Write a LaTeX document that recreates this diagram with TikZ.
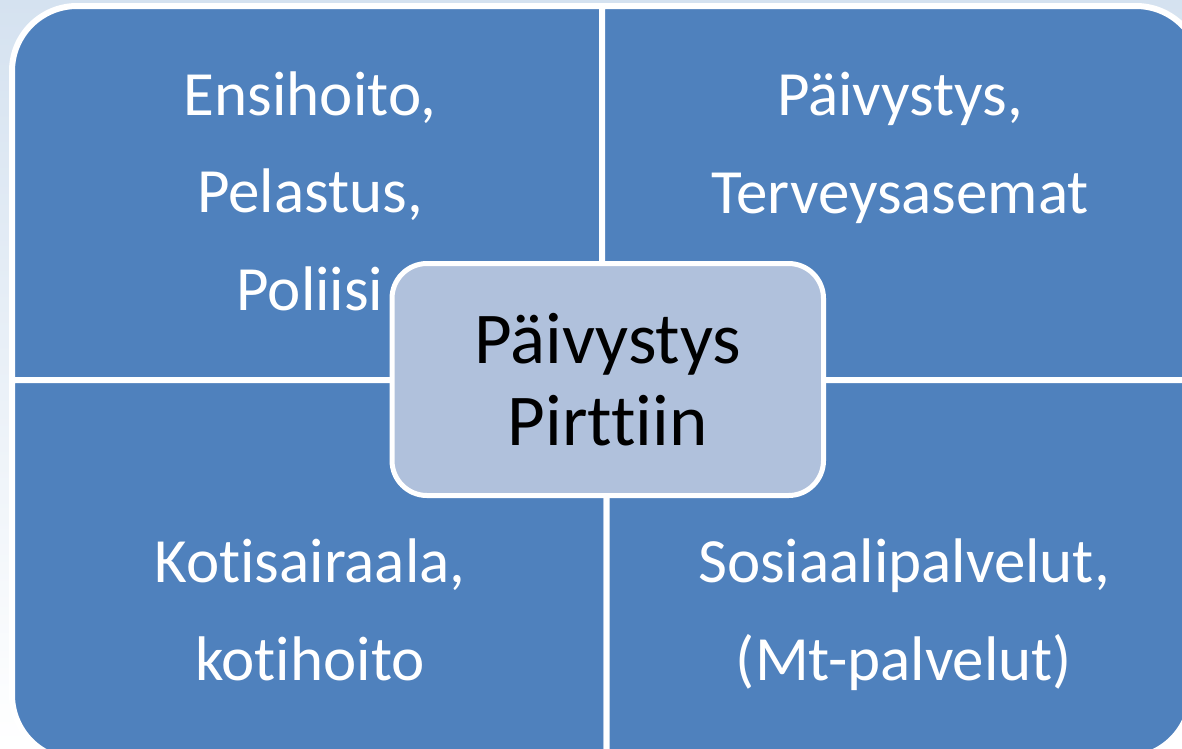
\documentclass[tikz,border=0pt]{standalone}
\usepackage{fontspec}
\setmainfont[Ligatures=CommonOff]{Carlito}
\usetikzlibrary{positioning}

\definecolor{quadblue}{RGB}{79,129,189}
\definecolor{hubfill}{RGB}{176,193,220}
\definecolor{bgtop}{RGB}{213,226,240}

\begin{document}
\begin{tikzpicture}[x=1pt,y=-1pt,
    quad/.style={fill=quadblue,draw=white,line width=6pt,line join=round},
    quadtext/.style={text=white,align=center,inner sep=0pt,anchor=base,
      font=\fontsize{63}{97.5}\selectfont},
    hub/.style={fill=hubfill,draw=white,line width=5pt,rounded corners=35pt,
      minimum width=431.5pt,minimum height=232pt,inner sep=0pt,align=center,
      font=\fontsize{73}{82}\selectfont}]
    \useasboundingbox (0,0) rectangle (1182,748);
    \clip (0,0) rectangle (1182,748);
    \fill[top color=bgtop,bottom color=white] (0,0) rectangle (1182,748);
    % four quadrants, one round corner each
    \draw[quad] (12,380) -- (12,71) arc[start angle=180,end angle=270,radius=65]
      -- (602,6) -- (602,380) -- cycle;
    \draw[quad] (602,6) -- (1136,6) arc[start angle=270,end angle=360,radius=65]
      -- (1201,380) -- (602,380) -- cycle;
    \draw[quad] (12,380) -- (606.5,380) -- (606.5,760) -- (77,760)
      arc[start angle=90,end angle=180,radius=65] -- cycle;
    \draw[quad] (606.5,380) -- (1191,380) -- (1191,693)
      arc[start angle=0,end angle=90,radius=65] -- (606.5,758) -- cycle;
    % anchor=base sits on the last line
    \node[quadtext] (tl) at (310,310) {Ensihoito,\\Pelastus,\\Poliisi};
    \node[quadtext] (tr) at (900,213) {Päivystys,\\Terveysasemat};
    \node[quadtext] (bl) at (310,680) {Kotisairaala,\\kotihoito};
    \node[quadtext] (br) at (904,680) {Sosiaalipalvelut,\\(Mt-palvelut)};
    % centre box
    \node[hub] (hub) at (607.75,379.5) {Päivystys\\Pirttiin};
  \end{tikzpicture}
\end{document}
